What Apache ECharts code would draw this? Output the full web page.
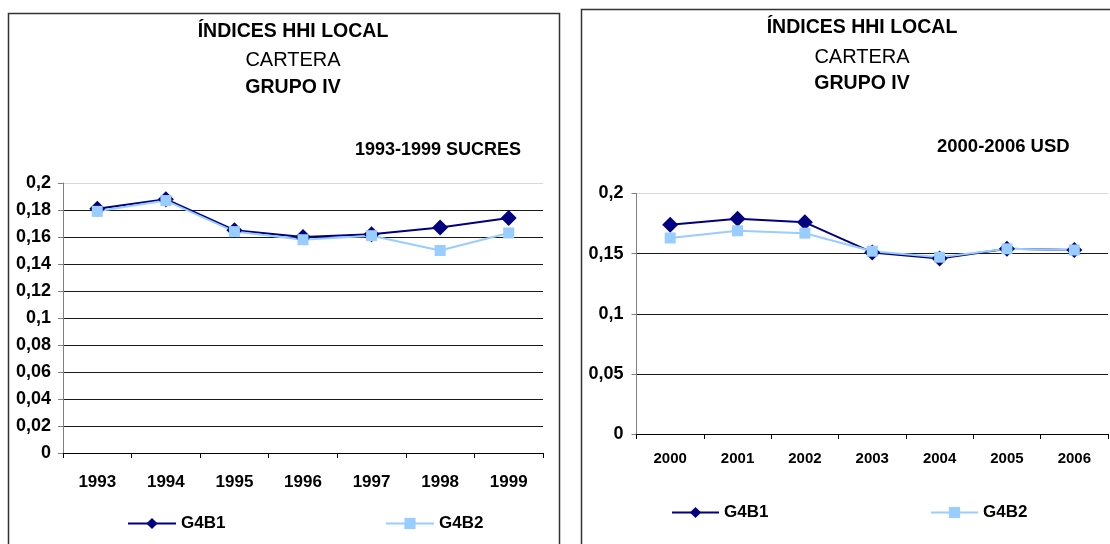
<!DOCTYPE html>
<html>
<head>
<meta charset="utf-8">
<title>Índices HHI local - Cartera - Grupo IV</title>
<script src="https://cdn.jsdelivr.net/npm/echarts@6/dist/echarts.min.js"></script>
<style>
  html, body { margin: 0; padding: 0; background: #ffffff; }
  #chart { width: 1110px; height: 544px; }
</style>
</head>
<body>
<div id="chart"></div>
<script>
// Period 1: 1993-1999 (sucres)
const yearsSucres = ['1993', '1994', '1995', '1996', '1997', '1998', '1999'];
const g4b1Sucres = [0.181, 0.188, 0.165, 0.160, 0.162, 0.167, 0.174];
const g4b2Sucres = [0.179, 0.187, 0.164, 0.158, 0.161, 0.150, 0.163];

// Period 2: 2000-2006 (USD)
const yearsUsd = ['2000', '2001', '2002', '2003', '2004', '2005', '2006'];
const g4b1Usd = [0.174, 0.179, 0.176, 0.151, 0.146, 0.154, 0.153];
const g4b2Usd = [0.163, 0.169, 0.167, 0.152, 0.147, 0.154, 0.153];

const seriesNames = ['G4B1', 'G4B2'];
const seriesColors = ['#000080', '#99CCFF'];
const titleLines = ['ÍNDICES HHI LOCAL', 'CARTERA', 'GRUPO IV'];
const periodLabels = ['1993-1999 SUCRES', '2000-2006 USD'];

const FONT = '"Liberation Sans", Arial, sans-serif';

// decimal comma, as in the Spanish-language tick labels
function commaFmt(v) {
  return String(+v.toFixed(2)).replace('.', ',');
}

function gridColors(count) {
  // every gridline dark, the top one (the axis max) pale
  const c = [];
  for (let i = 0; i < count; i++) c.push(i === count - 1 ? '#d8d8d8' : '#1a1a1a');
  return c;
}

function titleBlock(cx, tops, periodLeft, periodTop, periodText, periodSize) {
  const out = titleLines.map((t, i) => ({
    text: t,
    left: cx,
    top: tops[i],
    textAlign: 'center',
    padding: 0,
    textStyle: {
      fontFamily: FONT,
      fontSize: i === 1 ? 20 : 19.5,
      fontWeight: i === 1 ? 'normal' : 'bold',
      color: '#000'
    }
  }));
  out.push({
    text: periodText,
    left: periodLeft,
    top: periodTop,
    padding: 0,
    textStyle: { fontFamily: FONT, fontSize: periodSize, fontWeight: 'bold', color: '#000' }
  });
  return out;
}

function legendItem(name, left, top, width) {
  return {
    data: [name],
    left: left,
    top: top,
    padding: 0,
    itemWidth: width,
    itemHeight: 14,
    itemGap: 6,
    selectedMode: false,
    textStyle: { fontFamily: FONT, fontSize: 17, fontWeight: 'bold', color: '#000' }
  };
}

function lineSeries(name, data, xIdx, color, isFirst) {
  return {
    name: name,
    type: 'line',
    xAxisIndex: xIdx,
    yAxisIndex: xIdx,
    data: data,
    symbol: isFirst ? 'diamond' : 'rect',
    symbolSize: isFirst ? 16 : 11,
    showSymbol: true,
    lineStyle: { color: color, width: 2 },
    itemStyle: { color: color },
    emphasis: { disabled: true },
    animation: false
  };
}

function catAxis(gridIndex, cats, fontSize, margin) {
  return {
    type: 'category',
    gridIndex: gridIndex,
    data: cats,
    boundaryGap: true,
    axisLine: { lineStyle: { color: '#000', width: 1 } },
    axisTick: { show: true, length: 5, lineStyle: { color: '#000' } },
    axisLabel: { fontFamily: FONT, fontSize: fontSize, fontWeight: 'bold', color: '#000', margin: margin },
    splitLine: { show: false }
  };
}

function valAxis(gridIndex, interval, fontSize, margin) {
  const count = Math.round(0.2 / interval) + 1;
  return {
    type: 'value',
    gridIndex: gridIndex,
    min: 0,
    max: 0.2,
    interval: interval,
    axisLine: { show: true, lineStyle: { color: '#808080', width: 1 } },
    axisTick: { show: true, length: 5, lineStyle: { color: '#808080' } },
    axisLabel: {
      fontFamily: FONT, fontSize: fontSize, fontWeight: 'bold', color: '#000',
      margin: margin, formatter: commaFmt
    },
    splitLine: { show: true, lineStyle: { color: gridColors(count), width: 1 } }
  };
}

const chart = echarts.init(document.getElementById('chart'), null, { renderer: 'canvas' });

chart.setOption({
  backgroundColor: '#ffffff',
  animation: false,
  color: seriesColors,
  title: [
    ...titleBlock(293, [22, 50, 78], 355, 141, periodLabels[0], 18),
    ...titleBlock(862, [18, 47, 74], 937, 137, periodLabels[1], 18.5)
  ],
  legend: [
    legendItem(seriesNames[0], 127, 515, 48),
    legendItem(seriesNames[1], 385, 515, 48),
    legendItem(seriesNames[0], 671, 504, 47),
    legendItem(seriesNames[1], 930, 504, 47)
  ],
  grid: [
    { left: 63, top: 183, width: 480, height: 270, containLabel: false },
    { left: 636.5, top: 193.5, width: 471.5, height: 240.5, containLabel: false }
  ],
  xAxis: [
    catAxis(0, yearsSucres, 17, 21),
    catAxis(1, yearsUsd, 15, 17)
  ],
  yAxis: [
    valAxis(0, 0.02, 18, 12),
    valAxis(1, 0.05, 18, 13)
  ],
  series: [
    lineSeries(seriesNames[0], g4b1Sucres, 0, seriesColors[0], true),
    lineSeries(seriesNames[1], g4b2Sucres, 0, seriesColors[1], false),
    lineSeries(seriesNames[0], g4b1Usd, 1, seriesColors[0], true),
    lineSeries(seriesNames[1], g4b2Usd, 1, seriesColors[1], false)
  ],
  graphic: [
    // chart-area frames
    { type: 'rect', silent: true, z: -1,
      shape: { x: 8.5, y: 13.5, width: 551, height: 600 },
      style: { fill: null, stroke: '#333', lineWidth: 1.5 } },
    { type: 'rect', silent: true, z: -1,
      shape: { x: 581.5, y: 9.5, width: 600, height: 600 },
      style: { fill: null, stroke: '#333', lineWidth: 1.5 } }
  ]
});
</script>
</body>
</html>
